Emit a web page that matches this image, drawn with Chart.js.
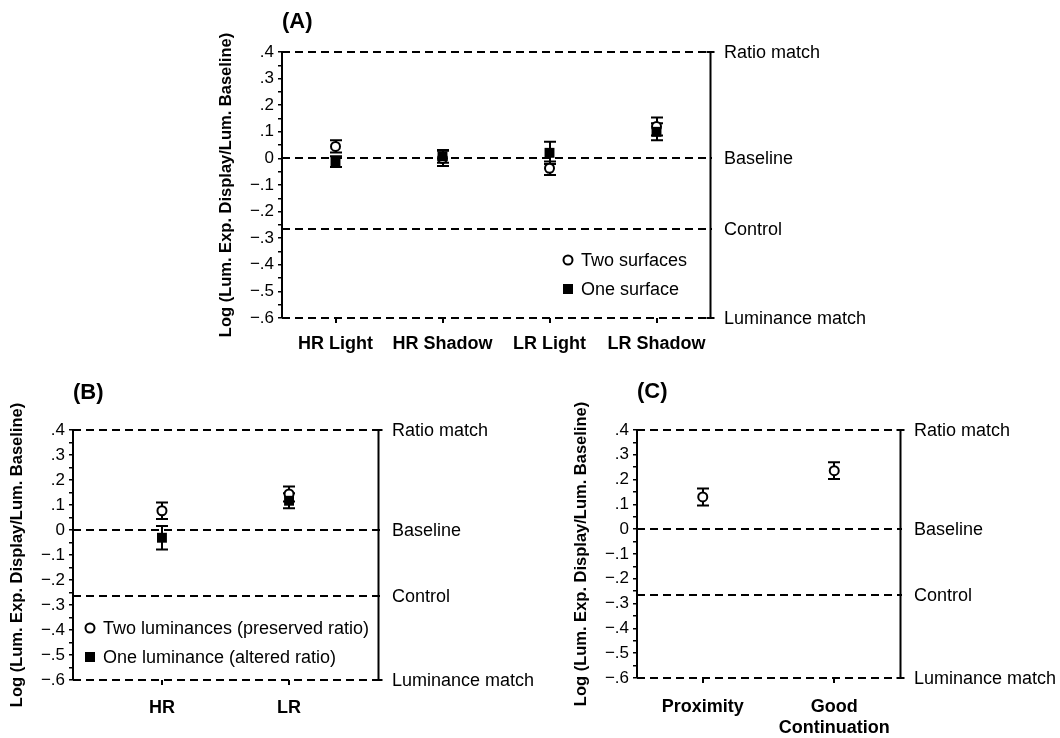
<!DOCTYPE html>
<html>
<head>
<meta charset="utf-8">
<script src="https://cdn.jsdelivr.net/npm/chart.js@4.4.1/dist/chart.umd.min.js"></script>
<style>
  body { margin: 0; background: #fff; }
  #wrap { position: relative; width: 1060px; height: 738px; overflow: hidden; }
  canvas { position: absolute; }
</style>
</head>
<body>
<div id="wrap">
  <canvas id="chartB" width="560" height="368" style="left:0px;top:370px"></canvas>
  <canvas id="chartC" width="530" height="368" style="left:530px;top:370px"></canvas>
  <canvas id="chartA" width="720" height="370" style="left:190px;top:0px"></canvas>
</div>
<script>
// reference lines (same on every panel)
const refValues = [0.4, 0, -0.265, -0.6];
const refLabels = ['Ratio match', 'Baseline', 'Control', 'Luminance match'];

// (A)
const catsA = ['HR Light', 'HR Shadow', 'LR Light', 'LR Shadow'];
const twoSurfaces = [0.045, 0.0, -0.037, 0.12];
const twoSurfacesErr = [0.023, 0.029, 0.025, 0.034];
const oneSurface = [-0.012, 0.008, 0.021, 0.10];
const oneSurfaceErr = [0.02, 0.024, 0.042, 0.032];

// (B)
const catsB = ['HR', 'LR'];
const twoLum = [0.077, 0.144];
const twoLumErr = [0.033, 0.03];
const oneLum = [-0.031, 0.117];
const oneLumErr = [0.047, 0.03];

// (C)
const catsC = ['Proximity', ['Good', 'Continuation']];
const grouping = [0.13, 0.236];
const groupingErr = [0.034, 0.034];

const FONT = '"Liberation Sans", Arial, Helvetica, sans-serif';
Chart.defaults.font.family = FONT;
Chart.defaults.color = '#000';

function tickLabel(v) {
  const n = Math.round(v * 100);
  if (n % 10 !== 0) return '';
  if (n === 0) return '0';
  return (n < 0 ? '\u2212' : '') + '.' + Math.abs(n / 10);
}

function drawMarker(ctx, style, x, y) {
  ctx.beginPath();
  if (style === 'circle') {
    ctx.arc(x, y, 4.5, 0, Math.PI * 2);
    ctx.fillStyle = '#fff';
    ctx.fill();
    ctx.lineWidth = 2;
    ctx.strokeStyle = '#000';
    ctx.stroke();
  } else {
    ctx.fillStyle = '#000';
    ctx.fillRect(x - 5, y - 5, 10, 10);
  }
}

const panelDecor = {
  id: 'panelDecor',
  beforeDatasetsDraw(chart, args, opts) {
    const { ctx, chartArea: a, scales: { x, y } } = chart;
    ctx.save();
    ctx.strokeStyle = '#000';
    ctx.lineWidth = 2;
    // dashed reference lines
    ctx.setLineDash([8, 5]);
    refValues.forEach(v => {
      const py = Math.round(y.getPixelForValue(v));
      ctx.beginPath();
      ctx.moveTo(a.left, py);
      ctx.lineTo(a.right + 2, py);
      ctx.stroke();
    });
    ctx.setLineDash([]);
    // solid bracket on the right
    const rx = Math.round(a.right) + 0.5;
    const t = Math.round(y.getPixelForValue(refValues[0]));
    const b = Math.round(y.getPixelForValue(refValues[3]));
    ctx.beginPath();
    ctx.moveTo(rx, t); ctx.lineTo(rx, b);
    ctx.moveTo(rx - 4, t); ctx.lineTo(rx + 4, t);
    ctx.moveTo(rx - 4, b); ctx.lineTo(rx + 4, b);
    ctx.stroke();
    ctx.font = '18px ' + FONT;
    ctx.fillStyle = '#000';
    ctx.textAlign = 'left';
    ctx.textBaseline = 'middle';
    refLabels.forEach((lab, i) => {
      ctx.fillText(lab, a.right + 14, y.getPixelForValue(refValues[i]) + 1);
    });
    // error bars
    ctx.lineWidth = 2;
    chart.data.datasets.forEach(ds => {
      ds.data.forEach((p, i) => {
        const e = ds.errors[i];
        const px = Math.round(x.getPixelForValue(p.x));
        const top = y.getPixelForValue(p.y + e);
        const bot = y.getPixelForValue(p.y - e);
        ctx.beginPath();
        ctx.moveTo(px, top); ctx.lineTo(px, bot);
        ctx.moveTo(px - 6, top); ctx.lineTo(px + 6, top);
        ctx.moveTo(px - 6, bot); ctx.lineTo(px + 6, bot);
        ctx.stroke();
      });
    });
    ctx.restore();
  },
  afterDraw(chart, args, opts) {
    const { ctx, chartArea: a } = chart;
    ctx.save();
    ctx.fillStyle = '#000';
    // panel letter
    ctx.font = 'bold 22px ' + FONT;
    ctx.textAlign = 'left';
    ctx.textBaseline = 'middle';
    ctx.fillText(opts.title, a.left, a.top + opts.titleDy);
    // y axis title
    ctx.save();
    ctx.translate(a.left - 56, (a.top + a.bottom) / 2);
    ctx.rotate(-Math.PI / 2);
    ctx.font = 'bold 16.5px ' + FONT;
    ctx.textAlign = 'center';
    ctx.fillText('Log (Lum. Exp. Display/Lum. Baseline)', 0, 0);
    ctx.restore();
    // legend
    if (opts.legend) {
      ctx.font = '18px ' + FONT;
      ctx.textBaseline = 'middle';
      chart.data.datasets.forEach((ds, i) => {
        const lx = a.left + opts.legend.x;
        const ly = a.top + opts.legend.y + i * 29;
        drawMarker(ctx, ds.pointStyle, lx, ly);
        ctx.fillStyle = '#000';
        ctx.fillText(ds.label, lx + 13, ly + 1);
      });
    }
    ctx.restore();
  }
};

function toPoints(vals) {
  return vals.map((v, i) => ({ x: i, y: v }));
}

function circleSet(label, vals, errs) {
  return {
    label: label, data: toPoints(vals), errors: errs, order: 1,
    pointStyle: 'circle', pointRadius: 4.5, pointBorderWidth: 2,
    pointBackgroundColor: '#fff', pointBorderColor: '#000', showLine: false
  };
}

function squareSet(label, vals, errs) {
  return {
    label: label, data: toPoints(vals), errors: errs, order: 0,
    pointStyle: 'rect', pointRadius: 7, pointBorderWidth: 0,
    pointBackgroundColor: '#000', pointBorderColor: '#000', showLine: false
  };
}

function makePanel(id, p) {
  new Chart(document.getElementById(id), {
    type: 'scatter',
    data: { datasets: p.datasets },
    options: {
      responsive: false,
      animation: false,
      devicePixelRatio: 1,
      layout: { padding: { left: 0, top: p.top, right: p.right, bottom: 0 } },
      scales: {
        x: {
          type: 'linear', min: p.xmin, max: p.xmax,
          afterBuildTicks: s => { s.ticks = p.cats.map((c, i) => ({ value: i })); },
          afterFit: s => { s.height = p.xh; },
          border: { display: false },
          grid: { drawOnChartArea: false, color: '#000', lineWidth: 2, tickLength: 5 },
          ticks: {
            autoSkip: false, maxRotation: 0, padding: p.xpad, color: '#000',
            font: { size: 18, weight: 'bold' },
            callback: v => p.cats[v]
          }
        },
        y: {
          min: -0.6, max: 0.4,
          afterFit: s => { s.width = p.yw; },
          border: { display: true, color: '#000', width: 2 },
          grid: { drawOnChartArea: false, color: '#000', lineWidth: 1.5, tickLength: 4 },
          ticks: { stepSize: 0.05, autoSkip: false, padding: 4, color: '#000', font: { size: 17 }, callback: tickLabel }
        }
      },
      plugins: {
        legend: { display: false },
        tooltip: { enabled: false },
        panelDecor: { title: p.title, titleDy: p.titleDy, legend: p.legend }
      }
    },
    plugins: [panelDecor]
  });
}

makePanel('chartA', {
  title: '(A)', titleDy: -30, cats: catsA, xmin: -0.5, xmax: 3.5,
  top: 52, right: 200, yw: 92, xh: 52, xpad: 10,
  legend: { x: 286, y: 208 },
  datasets: [
    circleSet('Two surfaces', twoSurfaces, twoSurfacesErr),
    squareSet('One surface', oneSurface, oneSurfaceErr)
  ]
});

makePanel('chartB', {
  title: '(B)', titleDy: -37, cats: catsB, xmin: -0.7, xmax: 1.7,
  top: 60, right: 182, yw: 73, xh: 58, xpad: 12,
  legend: { x: 17, y: 198 },
  datasets: [
    circleSet('Two luminances (preserved ratio)', twoLum, twoLumErr),
    squareSet('One luminance (altered ratio)', oneLum, oneLumErr)
  ]
});

makePanel('chartC', {
  title: '(C)', titleDy: -38, cats: catsC, xmin: -0.5, xmax: 1.5,
  top: 60, right: 160, yw: 107, xh: 60, xpad: 13,
  legend: null,
  datasets: [
    circleSet('Grouping', grouping, groupingErr)
  ]
});
</script>
</body>
</html>
